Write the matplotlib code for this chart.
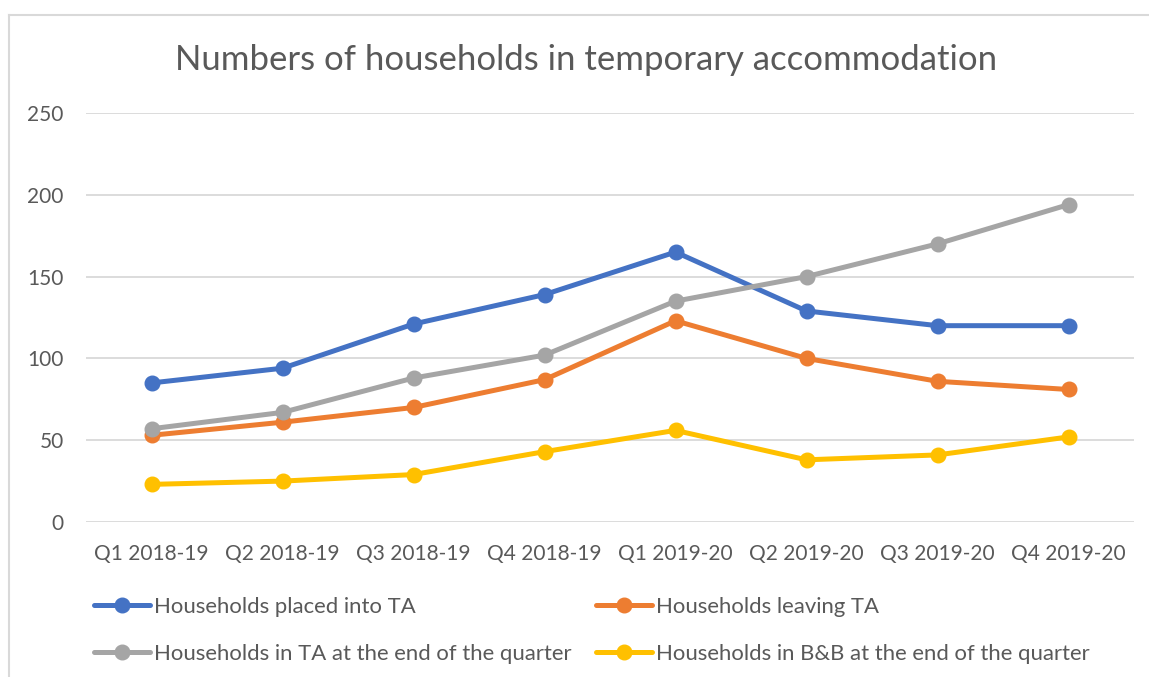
import matplotlib
matplotlib.use("Agg")
import matplotlib.pyplot as plt
from matplotlib.lines import Line2D

categories = ["Q1 2018-19", "Q2 2018-19", "Q3 2018-19", "Q4 2018-19",
              "Q1 2019-20", "Q2 2019-20", "Q3 2019-20", "Q4 2019-20"]
placed = [85, 94, 121, 139, 165, 129, 120, 120]
leaving = [53, 61, 70, 87, 123, 100, 86, 81]
in_ta = [57, 67, 88, 102, 135, 150, 170, 194]
in_bb = [23, 25, 29, 43, 56, 38, 41, 52]
series_names = ["Households placed into TA", "Households leaving TA",
                "Households in TA at the end of the quarter",
                "Households in B&B at the end of the quarter"]
colors = ["#4472C4", "#ED7D31", "#A5A5A5", "#FFC000"]
yticks = [0, 50, 100, 150, 200, 250]

plt.rcParams['font.family'] = ['Lato', 'DejaVu Sans']
TXT = "#595959"

W, H = 1149, 677
fig = plt.figure(figsize=(W / 100, H / 100), dpi=100)
ax = fig.add_axes([86 / W, 1 - 522 / H, (1134 - 86) / W, (522 - 113) / H])

x = list(range(len(categories)))
lines = []
for vals, name, c in zip([placed, leaving, in_ta, in_bb], series_names, colors):
    ln, = ax.plot(x, vals, color=c, lw=3.6, marker='o', markersize=10.5,
                  label=name, solid_capstyle='round', solid_joinstyle='round', zorder=3)
    lines.append(ln)

ax.set_xlim(-0.5, len(categories) - 0.5)
ax.set_ylim(0, 250)
ax.set_yticks(yticks)
ax.set_xticks(x)
ax.set_xticklabels(categories)
ax.tick_params(axis='both', length=0, labelsize=15, colors=TXT)
ax.tick_params(axis='y', pad=16)
ax.tick_params(axis='x', pad=16)
ax.grid(axis='y', color="#D9D9D9", lw=1.3, zorder=0)
for s in ax.spines.values():
    s.set_visible(False)

fig.text(586 / W, 1 - 70 / H, "Numbers of households in temporary accommodation",
         ha='center', va='baseline', fontsize=25, color=TXT)

order = [0, 2, 1, 3]
leg = fig.legend([lines[i] for i in order], [series_names[i] for i in order],
                 ncol=2, loc='upper left', bbox_to_anchor=(94 / W, 1 - 597 / H),
                 frameon=False, fontsize=15.9, labelcolor=TXT,
                 handlelength=2.53, handletextpad=0.18, columnspacing=1.13,
                 labelspacing=1.2, borderpad=0, borderaxespad=0)

# chart area border (left and top visible)
fig.add_artist(Line2D([9 / W, 9 / W], [0, 1 - 15 / H], color="#D9D9D9", lw=1.5,
                      transform=fig.transFigure))
fig.add_artist(Line2D([9 / W, 1], [1 - 15 / H, 1 - 15 / H], color="#D9D9D9", lw=1.5,
                      transform=fig.transFigure))

fig.savefig("out.png", dpi=100, facecolor="white")
